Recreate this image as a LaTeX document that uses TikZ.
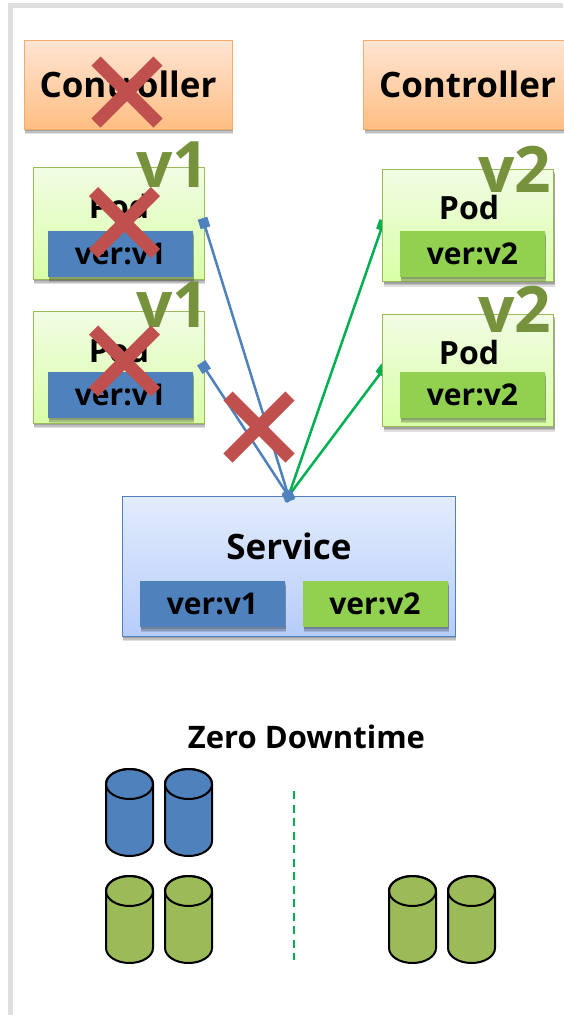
\documentclass[tikz,border=0pt]{standalone}
\usepackage{fontspec}
\setmainfont{Open Sans}
\usetikzlibrary{arrows.meta,shadows,shapes.misc,backgrounds}
\definecolor{cblue}{HTML}{4F81BD}
\definecolor{cgreen}{HTML}{92D050}
\definecolor{olive}{HTML}{76923C}
\definecolor{cylgreen}{HTML}{9BBB59}
\definecolor{xred}{HTML}{C0504D}
\definecolor{lgreen}{HTML}{00B050}
\definecolor{ctrlline}{HTML}{F9A968}
\tikzset{
  softshadow/.style={
    drop shadow={opacity=.12,shadow xshift=1pt,shadow yshift=-5pt,fill=black},
    drop shadow={opacity=.14,shadow xshift=1pt,shadow yshift=-3.5pt,fill=black},
    drop shadow={opacity=.16,shadow xshift=1pt,shadow yshift=-2pt,fill=black}},
  ctrlbox/.style={rectangle,draw=ctrlline,line width=1pt,top color={rgb,255:red,255;green,229;blue,212},bottom color={rgb,255:red,255;green,190;blue,130},minimum width=208pt,minimum height=89pt,inner sep=0pt,outer sep=0pt,softshadow,font=\bfseries\fontsize{35}{40}\selectfont},
  podbox/.style={rectangle,draw=cylgreen,line width=1pt,top color={rgb,255:red,242;green,252;blue,228},bottom color={rgb,255:red,216;green,255;blue,166},minimum width=171pt,minimum height=112pt,inner sep=0pt,outer sep=0pt,softshadow},
  svcbox/.style={rectangle,draw=cblue,line width=1pt,top color={rgb,255:red,227;green,236;blue,252},bottom color={rgb,255:red,182;green,204;blue,251},minimum width=333pt,minimum height=140pt,inner sep=0pt,outer sep=0pt,softshadow},
  verbox/.style={rectangle,minimum width=145pt,minimum height=46pt,inner sep=0pt,outer sep=0pt,font=\bfseries\fontsize{30}{32}\selectfont,softshadow},
  vblue/.style={verbox,fill=cblue},
  vgreen/.style={verbox,fill=cgreen},
  lbl/.style={inner sep=0pt,font=\bfseries\fontsize{32}{34}\selectfont},
  vertag/.style={inner sep=0pt,text=olive,font=\bfseries\fontsize{64}{66}\selectfont},
  redx/.style={cross out,draw=xred,line width=13pt,minimum size=62pt,inner sep=0pt,outer sep=0pt},
  bluelink/.style={draw=cblue,line width=2.5pt,{Square[length=10pt,width=10pt]}-{Square[length=10pt,width=10pt]},shorten <=-5pt,shorten >=-5pt},
  greenlink/.style={draw=lgreen,line width=2.5pt,-{Square[length=10pt,width=10pt]},shorten >=-5pt},
  canbox/.style={rectangle,minimum width=49pt,minimum height=89pt,inner sep=0pt,outer sep=0pt},
  canline/.style={draw=black,line width=2pt},
}
\newcommand{\candraw}[4]{%
  \node[canbox] (#1) at (#2,#3) {};
  \filldraw[canline,fill=#4] (#2-23.5,#3-28.5) -- (#2-23.5,#3+28.5) arc[start angle=180,end angle=0,x radius=23.5,y radius=15] -- (#2+23.5,#3-28.5) arc[start angle=0,end angle=-180,x radius=23.5,y radius=15] -- cycle;
  \draw[canline] (#2,#3-28.5) ellipse[x radius=23.5,y radius=15];
}
\begin{document}
\begin{tikzpicture}[x=1pt,y=-1pt]
\useasboundingbox (0,0) rectangle (563,1015);
\draw[draw=black!13,line width=5pt] (10.5,1015) -- (10.5,5.5) -- (563,5.5);

\node[ctrlbox] (c1) at (128,84.5) {Controller};
\node[ctrlbox] (c2) at (467.5,84.5) {Controller};

\node[podbox] (p1) at (118.5,223) {};
\node[podbox] (p2) at (118.5,367) {};
\node[podbox] (p3) at (468,225.5) {};
\node[podbox] (p4) at (468,370.5) {};
\node[svcbox] (svc) at (288.5,566) {};

\node[lbl] (p1t) at (119,206) {Pod};
\node[lbl] (p2t) at (119,350) {Pod};
\node[lbl] (p3t) at (469,207) {Pod};
\node[lbl] (p4t) at (469,352) {Pod};

\node[vblue] (v1a) at (120.5,254) {ver:v1};
\node[vblue] (v1b) at (120.5,395) {ver:v1};
\node[vgreen] (v2a) at (472.5,254) {ver:v2};
\node[vgreen] (v2b) at (472.5,395) {ver:v2};

\node[inner sep=0pt,font=\bfseries\fontsize{35}{40}\selectfont] (svct) at (289,546) {Service};
\node[vblue] (sv1) at (212.5,604) {ver:v1};
\node[vgreen] (sv2) at (375,604) {ver:v2};

\begin{pgfonlayer}{background}
\draw[greenlink] (svc.north) -- (p3.west);
\draw[greenlink] (svc.north) -- (p4.west);
\end{pgfonlayer}
\draw[bluelink] (svc.north) -- (p1.east);
\draw[bluelink] (svc.north) -- (p2.east);

\node[vertag] (t1) at (173,165) {v1};
\node[vertag] (t2) at (173,305) {v1};
\node[vertag] (t3) at (515,169) {v2};
\node[vertag] (t4) at (515,309) {v2};

\node[redx] (x1) at (127,92) {};
\node[redx] (x2) at (124.5,222.5) {};
\node[redx] (x3) at (124.5,361) {};
\node[redx] (x4) at (259,427) {};

\node[inner sep=0pt,font=\bfseries\fontsize{31}{34}\selectfont] (zd) at (306.5,737) {Zero Downtime};

\candraw{d1}{129.5}{812.5}{cblue}
\candraw{d2}{188.5}{812.5}{cblue}
\candraw{d3}{129.5}{919.5}{cylgreen}
\candraw{d4}{188.5}{919.5}{cylgreen}
\candraw{d5}{412.5}{919.5}{cylgreen}
\candraw{d6}{471.5}{919.5}{cylgreen}

\coordinate (da) at (293.5,791);
\coordinate (db) at (293.5,960);
\draw[draw=lgreen,line width=2pt,dash pattern=on 8pt off 5.5pt] (da) -- (db);
\end{tikzpicture}
\end{document}
